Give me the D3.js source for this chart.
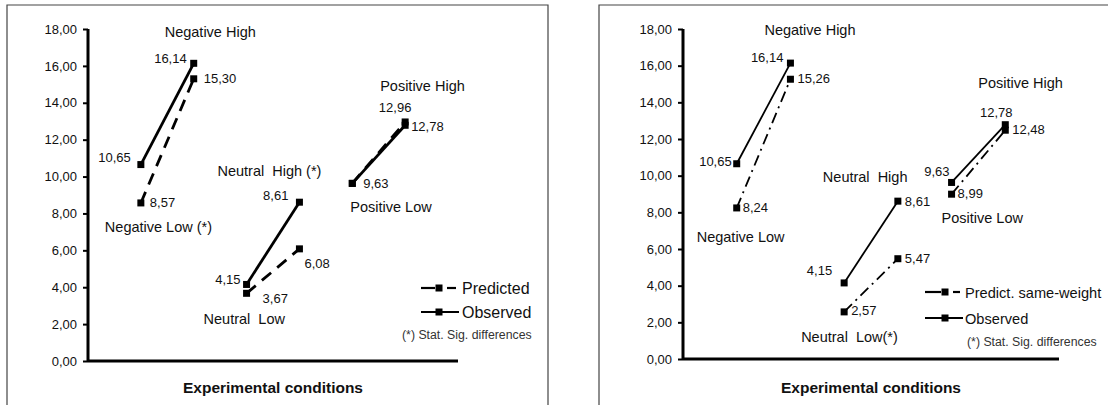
<!DOCTYPE html>
<html>
  <head>
    <meta charset="utf-8">
    <title>Experimental conditions</title>
    <script src="https://d3js.org/d3.v7.min.js"></script>
    <style>
      body { margin: 0; background: #fff; }
      text { font-family: Arial, "Liberation Sans", sans-serif; fill: #111; white-space: pre; }
    </style>
  </head>
  <body>
    <script>
      // data
      var conditions = ["Negative Low", "Negative High", "Neutral Low", "Neutral High", "Positive Low", "Positive High"];
      var observed = [10.65, 16.14, 4.15, 8.61, 9.63, 12.78];
      var predicted = [8.57, 15.30, 3.67, 6.08, 9.63, 12.96];
      var predictedSameWeight = [8.24, 15.26, 2.57, 5.47, 8.99, 12.48];
      var yTicks = [0, 2, 4, 6, 8, 10, 12, 14, 16, 18];
      var leftNames = ["Negative Low (*)", "Negative High", "Neutral  Low", "Neutral  High (*)", "Positive Low", "Positive High"];
      var rightNames = ["Negative Low", "Negative High", "Neutral  Low(*)", "Neutral  High", "Positive Low", "Positive High"];
      var leftLegend = ["Predicted", "Observed"];
      var rightLegend = ["Predict. same-weight", "Observed"];
      var noteText = "(*) Stat. Sig. differences";
      var xTitle = "Experimental conditions";

      var comma = d3.formatLocale({decimal: ",", thousands: ".", grouping: [3], currency: ["", ""]}).format(".2f");

      var svg = d3.select("body").append("svg")
        .attr("width", 1114)
        .attr("height", 405);

      var panels = [
        {
          box: [7, 5, 548], rightBorder: true,
          x0: 88, x1: 458, yTop: 29, yBottom: 361,
          width: 2.8, dash: "12,8",
          pred: predicted, names: leftNames, legend: leftLegend,
          obsLab: [["end", -10, -3], ["end", -7, 0], ["end", -6, 0], ["end", -11, -2], ["start", 11, 5], ["start", 6, 6]],
          predLab: [["start", 9, 4], ["start", 10, 4], ["start", 16, 10], ["start", 5, 19], null, ["middle", -10, -10]],
          names_pos: [[-36, 7.0], [-29, 17.57], [-43, 2.0], [-82, 10.03], [-2, 8.08], [-25, 14.64]],
          leg: {sx: 421, ex: 459, m: 439, tx: 462, rows: [288, 312], size: 16, noteX: 402, noteY: 339}
        },
        {
          box: [599, 5, 1108], rightBorder: false,
          x0: 683, x1: 1059, yTop: 29, yBottom: 359,
          width: 1.8, dash: "11,5,2,5",
          pred: predictedSameWeight, names: rightNames, legend: rightLegend,
          obsLab: [["end", -5, 2], ["end", -7, -1], ["end", -12, -8], ["start", 7, 5], ["end", -2, -6], ["middle", -9, -8]],
          predLab: [["start", 6, 4], ["start", 7, 4], ["start", 7, 3], ["start", 7, 4], ["start", 6, 4], ["start", 7, 4]],
          names_pos: [[-40, 6.38], [-26, 17.67], [-43, 0.93], [-75, 9.65], [-10, 7.42], [-27, 14.78]],
          leg: {sx: 925, ex: 963, m: 945, tx: 965, rows: [292, 318], size: 14.6, noteX: 967, noteY: 346}
        }
      ];

      panels.forEach(drawPanel);

      function drawPanel(p) {
        var g = svg.append("g");

        // frame
        g.append("path")
          .attr("d", "M" + p.box[0] + ",406V" + p.box[1] + "H" + p.box[2] + (p.rightBorder ? "V406" : ""))
          .attr("fill", "none")
          .attr("stroke", "#444")
          .attr("stroke-width", 1.2);

        var x = d3.scaleLinear().domain([0, 7]).range([p.x0, p.x1]);
        var y = d3.scaleLinear().domain([0, 18]).range([p.yBottom, p.yTop]);

        // y axis
        var yAxis = g.append("g")
          .attr("transform", "translate(" + p.x0 + ",0)")
          .call(d3.axisLeft(y).tickValues(yTicks).tickFormat(comma).tickSize(5).tickPadding(6));
        yAxis.select(".domain").attr("stroke", "#000").attr("stroke-width", 3)
          .attr("d", "M0," + y(18) + "V" + y(0));
        yAxis.selectAll(".tick line").attr("stroke", "#000").attr("stroke-width", 2);
        yAxis.selectAll(".tick text")
          .attr("fill", "#111")
          .style("font-size", "13px")
          .style("font-family", "Arial, 'Liberation Sans', sans-serif");

        // x axis line
        g.append("line")
          .attr("x1", p.x0).attr("x2", p.x1)
          .attr("y1", y(0)).attr("y2", y(0))
          .attr("stroke", "#000")
          .attr("stroke-width", 3);

        g.append("text")
          .attr("x", (p.x0 + p.x1) / 2)
          .attr("y", 393)
          .attr("text-anchor", "middle")
          .style("font-size", "15.5px")
          .style("font-weight", "bold")
          .text(xTitle);

        var line = d3.line()
          .x(function(d) { return x(d.i + 1); })
          .y(function(d) { return y(d.v); });

        function pairs(vals) {
          return [0, 2, 4].map(function(i) {
            return [{i: i, v: vals[i]}, {i: i + 1, v: vals[i + 1]}];
          });
        }

        var series = [
          {vals: p.pred, dash: p.dash, lab: p.predLab},
          {vals: observed, dash: null, lab: p.obsLab}
        ];

        series.forEach(function(s) {
          g.selectAll(null)
            .data(pairs(s.vals))
            .enter().append("path")
              .attr("d", line)
              .attr("fill", "none")
              .attr("stroke", "#000")
              .attr("stroke-width", p.width)
              .attr("stroke-dasharray", s.dash);

          g.selectAll(null)
            .data(s.vals)
            .enter().append("rect")
              .attr("x", function(d, i) { return x(i + 1) - 3.5; })
              .attr("y", function(d) { return y(d) - 3.5; })
              .attr("width", 7)
              .attr("height", 7)
              .attr("fill", "#000");

          g.selectAll(null)
            .data(s.vals.map(function(v, i) { return {v: v, i: i, o: s.lab[i]}; }).filter(function(d) { return d.o; }))
            .enter().append("text")
              .attr("x", function(d) { return x(d.i + 1) + d.o[1]; })
              .attr("y", function(d) { return y(d.v) + d.o[2]; })
              .attr("text-anchor", function(d) { return d.o[0]; })
              .style("font-size", "13px")
              .text(function(d) { return comma(d.v); });
        });

        // condition names
        g.selectAll(null)
          .data(p.names)
          .enter().append("text")
            .attr("x", function(d, i) { return x(i + 1) + p.names_pos[i][0]; })
            .attr("y", function(d, i) { return y(p.names_pos[i][1]); })
            .style("font-size", "14.5px")
            .text(function(d) { return d; });

        // legend
        var L = p.leg;
        var rows = g.selectAll(null)
          .data(p.legend)
          .enter().append("g")
            .attr("transform", function(d, i) { return "translate(0," + L.rows[i] + ")"; });

        rows.each(function(d, i) {
          var r = d3.select(this);
          if (i === 0) {
            r.append("line").attr("x1", L.sx).attr("x2", L.m - 4).attr("y1", 0).attr("y2", 0);
            r.append("line").attr("x1", L.m + 8).attr("x2", L.ex - 3).attr("y1", 0).attr("y2", 0);
          } else {
            r.append("line").attr("x1", L.sx).attr("x2", L.ex).attr("y1", 0).attr("y2", 0);
          }
          r.selectAll("line").attr("stroke", "#000").attr("stroke-width", 2.2);
          r.append("rect")
            .attr("x", L.m - 3.5).attr("y", -3.5)
            .attr("width", 7).attr("height", 7)
            .attr("fill", "#000");
          r.append("text")
            .attr("x", L.tx)
            .attr("y", 6)
            .style("font-size", L.size + "px")
            .text(d);
        });

        g.append("text")
          .attr("x", L.noteX)
          .attr("y", L.noteY)
          .style("font-size", "12.3px")
          .style("fill", "#333")
          .text(noteText);
      }
    </script>
  </body>
</html>
